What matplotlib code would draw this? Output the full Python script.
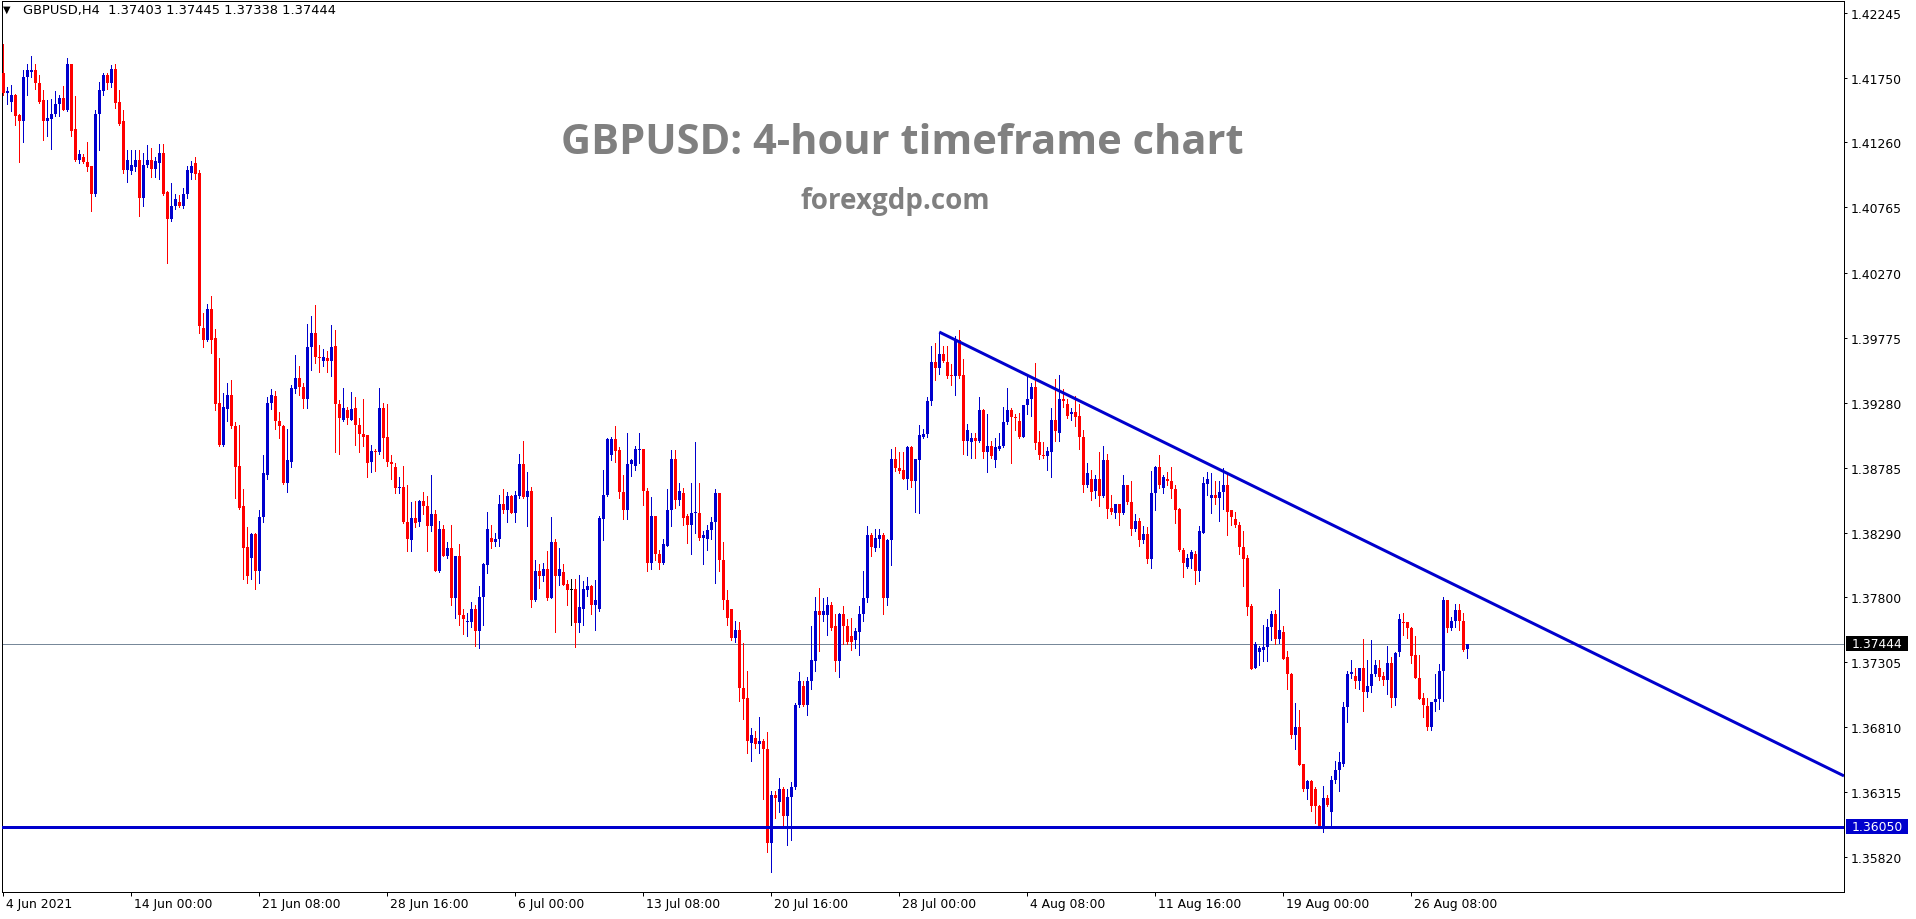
import matplotlib
matplotlib.use("Agg")
import matplotlib.pyplot as plt
from matplotlib.patches import Rectangle
from matplotlib.transforms import blended_transform_factory
import numpy as np

# ---------------- data (GBPUSD H4) ----------------
OPEN = [
1.4179,1.4164,1.4157,1.4162,1.4147,1.4142,1.4176,1.4180,1.4181,1.4171,
1.4158,1.4142,1.4144,1.4148,1.4155,1.4160,1.4151,1.4186,1.4136,1.4113,
1.4115,1.4111,1.4108,1.4087,1.4148,1.4165,1.4177,1.4171,1.4182,1.4157,
1.4142,1.4105,1.4104,1.4107,1.4113,1.4084,1.4109,1.4113,1.4106,1.4110,
1.4118,1.4088,1.4068,1.4078,1.4081,1.4078,1.4087,1.4103,1.4110,1.4103,
1.3985,1.3976,1.3999,1.3977,1.3928,1.3896,1.3923,1.3934,1.3910,1.3880,
1.3849,1.3818,1.3810,1.3828,1.3800,1.3841,1.3873,1.3928,1.3933,1.3914,
1.3910,1.3867,1.3883,1.3938,1.3947,1.3940,1.3931,1.3970,1.3981,1.3963,
1.3960,1.3962,1.3960,1.3971,1.3927,1.3915,1.3922,1.3915,1.3924,1.3911,
1.3904,1.3903,1.3883,1.3891,1.3890,1.3924,1.3902,1.3883,1.3879,1.3863,
1.3864,1.3837,1.3823,1.3840,1.3837,1.3853,1.3849,1.3834,1.3843,1.3800,
1.3832,1.3811,1.3817,1.3779,1.3811,1.3766,1.3761,1.3761,1.3771,1.3754,
1.3780,1.3804,1.3825,1.3822,1.3824,1.3851,1.3846,1.3857,1.3844,1.3857,
1.3881,1.3856,1.3861,1.3778,1.3800,1.3796,1.3801,1.3779,1.3822,1.3796,
1.3799,1.3790,1.3785,1.3786,1.3760,1.3771,1.3785,1.3788,1.3774,1.3771,
1.3839,1.3858,1.3888,1.3900,1.3892,1.3860,1.3846,1.3881,1.3880,1.3892,
1.3893,1.3861,1.3806,1.3842,1.3813,1.3806,1.3819,1.3846,1.3885,1.3854,
1.3859,1.3842,1.3835,1.3844,1.3844,1.3825,1.3824,1.3831,1.3837,1.3859,
1.3808,1.3778,1.3771,1.3749,1.3755,1.3711,1.3703,1.3669,1.3673,1.3668,
1.3670,1.3664,1.3593,1.3629,1.3624,1.3634,1.3613,1.3628,1.3635,1.3698,
1.3712,1.3698,1.3716,1.3731,1.3769,1.3766,1.3766,1.3774,1.3758,1.3731,
1.3767,1.3758,1.3750,1.3747,1.3753,1.3767,1.3779,1.3827,1.3817,1.3824,
1.3827,1.3779,1.3823,1.3885,1.3878,1.3877,1.3870,1.3894,1.3868,1.3884,
1.3902,1.3904,1.3929,1.3959,1.3954,1.3965,1.3959,1.3949,1.3948,1.3976,
1.3949,1.3899,1.3898,1.3901,1.3899,1.3922,1.3890,1.3895,1.3884,1.3893,
1.3895,1.3913,1.3922,1.3917,1.3914,1.3902,1.3926,1.3931,1.3940,1.3898,
1.3888,1.3887,1.3890,1.3915,1.3905,1.3931,1.3927,1.3919,1.3921,1.3918,
1.3902,1.3865,1.3870,1.3861,1.3870,1.3857,1.3884,1.3848,1.3844,1.3851,
1.3844,1.3865,1.3852,1.3832,1.3838,1.3823,1.3828,1.3809,1.3859,1.3879,
1.3863,1.3870,1.3868,1.3862,1.3847,1.3816,1.3803,1.3809,1.3813,1.3800,
1.3829,1.3866,1.3855,1.3858,1.3855,1.3860,1.3865,1.3846,1.3839,1.3835,
1.3818,1.3810,1.3773,1.3726,1.3738,1.3740,1.3742,1.3757,1.3767,1.3748,
1.3753,1.3734,1.3721,1.3675,1.3681,1.3653,1.3634,1.3640,1.3634,1.3621,
1.3605,1.3627,1.3616,1.3641,1.3648,1.3653,1.3696,1.3721,1.3720,1.3716,
1.3726,1.3708,1.3712,1.3721,1.3726,1.3720,1.3717,1.3730,1.3703,1.3738,
1.3761,1.3761,1.3756,1.3736,1.3718,1.3703,1.3697,1.3681,1.3700,1.3702,
1.3724,1.3778,1.3756,1.3762,1.3770,1.3762,1.37403]

HIGH = [
1.4201,1.4168,1.4170,1.4163,1.4148,1.4181,1.4186,1.4192,1.4186,1.4177,
1.4166,1.4158,1.4159,1.4165,1.4162,1.4169,1.4190,1.4186,1.4161,1.4120,
1.4117,1.4126,1.4108,1.4151,1.4172,1.4179,1.4179,1.4185,1.4186,1.4166,
1.4151,1.4120,1.4120,1.4120,1.4120,1.4118,1.4124,1.4122,1.4115,1.4125,
1.4125,1.4089,1.4095,1.4087,1.4086,1.4091,1.4108,1.4112,1.4115,1.4105,
1.3996,1.4003,1.4009,1.3984,1.3962,1.3935,1.3943,1.3945,1.3913,1.3911,
1.3862,1.3833,1.3829,1.3829,1.3846,1.3888,1.3932,1.3938,1.3937,1.3921,
1.3911,1.3908,1.3941,1.3964,1.3956,1.3943,1.3988,1.3994,1.4002,1.3972,
1.3969,1.3967,1.3987,1.3983,1.3930,1.3939,1.3925,1.3936,1.3932,1.3916,
1.3931,1.3903,1.3896,1.3893,1.3939,1.3928,1.3927,1.3888,1.3882,1.3871,
1.3880,1.3865,1.3852,1.3853,1.3854,1.3860,1.3857,1.3873,1.3846,1.3838,
1.3835,1.3822,1.3835,1.3811,1.3820,1.3771,1.3768,1.3776,1.3774,1.3788,
1.3806,1.3845,1.3835,1.3829,1.3858,1.3862,1.3860,1.3858,1.3861,1.3889,
1.3899,1.3875,1.3864,1.3808,1.3805,1.3806,1.3815,1.3841,1.3824,1.3817,
1.3805,1.3793,1.3794,1.3794,1.3797,1.3792,1.3795,1.3789,1.3793,1.3842,
1.3877,1.3901,1.3902,1.3910,1.3894,1.3873,1.3905,1.3885,1.3895,1.3905,
1.3893,1.3863,1.3856,1.3842,1.3816,1.3824,1.3862,1.3892,1.3892,1.3867,
1.3863,1.3843,1.3867,1.3898,1.3867,1.3830,1.3835,1.3841,1.3862,1.3859,
1.3822,1.3785,1.3771,1.3762,1.3761,1.3745,1.3724,1.3680,1.3678,1.3689,
1.3672,1.3677,1.3632,1.3632,1.3642,1.3635,1.3634,1.3639,1.3699,1.3723,
1.3716,1.3719,1.3758,1.3780,1.3787,1.3779,1.3780,1.3776,1.3767,1.3768,
1.3773,1.3763,1.3764,1.3756,1.3773,1.3800,1.3834,1.3829,1.3832,1.3832,
1.3829,1.3824,1.3893,1.3894,1.3890,1.3890,1.3895,1.3895,1.3885,1.3911,
1.3908,1.3932,1.3971,1.3973,1.3981,1.3971,1.3971,1.3957,1.3979,1.3983,
1.3961,1.3912,1.3905,1.3905,1.3932,1.3923,1.3919,1.3899,1.3901,1.3905,
1.3925,1.3939,1.3924,1.3919,1.3920,1.3926,1.3949,1.3943,1.3958,1.3906,
1.3898,1.3894,1.3924,1.3946,1.3949,1.3938,1.3931,1.3924,1.3933,1.3927,
1.3907,1.3882,1.3877,1.3873,1.3890,1.3895,1.3889,1.3858,1.3851,1.3851,
1.3873,1.3865,1.3868,1.3843,1.3840,1.3834,1.3833,1.3876,1.3880,1.3888,
1.3873,1.3875,1.3879,1.3865,1.3848,1.3817,1.3813,1.3816,1.3815,1.3834,
1.3871,1.3875,1.3874,1.3868,1.3868,1.3878,1.3874,1.3846,1.3845,1.3837,
1.3830,1.3812,1.3775,1.3746,1.3743,1.3759,1.3763,1.3769,1.3770,1.3786,
1.3758,1.3739,1.3722,1.3699,1.3694,1.3653,1.3641,1.3641,1.3635,1.3622,
1.3636,1.3629,1.3644,1.3655,1.3662,1.3700,1.3724,1.3732,1.3726,1.3726,
1.3748,1.3732,1.3747,1.3732,1.3732,1.3723,1.3743,1.3734,1.3738,1.3767,
1.3768,1.3761,1.3757,1.3750,1.3736,1.3707,1.3703,1.3700,1.3721,1.3729,
1.3780,1.3778,1.3765,1.3775,1.3775,1.3768,1.37445]

LOW = [
1.4162,1.4155,1.4150,1.4139,1.4111,1.4126,1.4162,1.4176,1.4167,1.4156,
1.4128,1.4131,1.4121,1.4146,1.4146,1.4151,1.4150,1.4131,1.4112,1.4110,
1.4110,1.4104,1.4074,1.4085,1.4120,1.4162,1.4167,1.4168,1.4152,1.4139,
1.4103,1.4096,1.4102,1.4104,1.4070,1.4078,1.4107,1.4100,1.4100,1.4098,
1.4086,1.4034,1.4066,1.4075,1.4077,1.4076,1.4084,1.4098,1.4098,1.3981,
1.3970,1.3975,1.3966,1.3922,1.3895,1.3895,1.3914,1.3909,1.3855,1.3847,
1.3794,1.3791,1.3794,1.3786,1.3791,1.3837,1.3870,1.3923,1.3908,1.3901,
1.3866,1.3860,1.3879,1.3935,1.3934,1.3924,1.3924,1.3953,1.3958,1.3951,
1.3956,1.3951,1.3948,1.3890,1.3889,1.3914,1.3912,1.3915,1.3896,1.3890,
1.3895,1.3871,1.3875,1.3876,1.3889,1.3886,1.3880,1.3870,1.3859,1.3859,
1.3836,1.3815,1.3815,1.3833,1.3834,1.3843,1.3815,1.3830,1.3800,1.3799,
1.3811,1.3810,1.3774,1.3764,1.3759,1.3752,1.3750,1.3757,1.3743,1.3741,
1.3759,1.3798,1.3817,1.3819,1.3819,1.3844,1.3837,1.3844,1.3837,1.3855,
1.3855,1.3834,1.3772,1.3777,1.3787,1.3792,1.3778,1.3779,1.3753,1.3789,
1.3789,1.3774,1.3759,1.3742,1.3753,1.3759,1.3781,1.3767,1.3755,1.3769,
1.3823,1.3857,1.3884,1.3883,1.3855,1.3839,1.3839,1.3872,1.3877,1.3882,
1.3850,1.3800,1.3801,1.3808,1.3801,1.3805,1.3819,1.3834,1.3848,1.3850,
1.3835,1.3821,1.3813,1.3829,1.3823,1.3805,1.3816,1.3824,1.3791,1.3800,
1.3771,1.3759,1.3747,1.3746,1.3701,1.3687,1.3661,1.3655,1.3665,1.3661,
1.3626,1.3586,1.3571,1.3612,1.3616,1.3605,1.3591,1.3595,1.3634,1.3696,
1.3697,1.3690,1.3710,1.3724,1.3739,1.3762,1.3751,1.3755,1.3724,1.3719,
1.3744,1.3744,1.3740,1.3741,1.3736,1.3762,1.3776,1.3811,1.3815,1.3818,
1.3767,1.3774,1.3804,1.3876,1.3874,1.3870,1.3862,1.3864,1.3845,1.3844,
1.3901,1.3902,1.3926,1.3945,1.3950,1.3959,1.3947,1.3941,1.3934,1.3947,
1.3889,1.3888,1.3886,1.3886,1.3898,1.3886,1.3875,1.3886,1.3879,1.3892,
1.3894,1.3912,1.3882,1.3907,1.3901,1.3902,1.3919,1.3918,1.3893,1.3885,
1.3886,1.3877,1.3871,1.3899,1.3899,1.3925,1.3916,1.3915,1.3910,1.3893,
1.3860,1.3864,1.3854,1.3855,1.3849,1.3856,1.3840,1.3843,1.3840,1.3835,
1.3843,1.3851,1.3827,1.3830,1.3819,1.3821,1.3806,1.3802,1.3846,1.3863,
1.3859,1.3865,1.3855,1.3836,1.3815,1.3795,1.3802,1.3802,1.3790,1.3792,
1.3829,1.3858,1.3844,1.3851,1.3838,1.3847,1.3827,1.3835,1.3833,1.3813,
1.3788,1.3766,1.3725,1.3726,1.3728,1.3731,1.3731,1.3747,1.3744,1.3745,
1.3733,1.3710,1.3673,1.3664,1.3652,1.3632,1.3626,1.3617,1.3608,1.3605,
1.3601,1.3621,1.3606,1.3638,1.3632,1.3651,1.3685,1.3718,1.3711,1.3710,
1.3693,1.3704,1.3708,1.3720,1.3717,1.3713,1.3706,1.3696,1.3698,1.3735,
1.3751,1.3749,1.3730,1.3718,1.3702,1.3689,1.3679,1.3679,1.3693,1.3695,
1.3701,1.3753,1.3755,1.3757,1.3755,1.3739,1.37338]

CLOSE = [
1.4164,1.4165,1.4162,1.4146,1.4142,1.4176,1.4181,1.4181,1.4171,1.4157,
1.4142,1.4145,1.4148,1.4155,1.4160,1.4151,1.4186,1.4135,1.4113,1.4117,
1.4111,1.4107,1.4087,1.4148,1.4166,1.4177,1.4171,1.4182,1.4156,1.4140,
1.4105,1.4113,1.4109,1.4113,1.4084,1.4109,1.4113,1.4106,1.4112,1.4118,
1.4087,1.4068,1.4078,1.4083,1.4078,1.4087,1.4105,1.4108,1.4102,1.3986,
1.3976,1.3999,1.3976,1.3927,1.3896,1.3925,1.3934,1.3910,1.3879,1.3848,
1.3817,1.3796,1.3828,1.3800,1.3841,1.3874,1.3928,1.3934,1.3914,1.3910,
1.3867,1.3884,1.3939,1.3947,1.3940,1.3931,1.3970,1.3981,1.3963,1.3962,
1.3963,1.3960,1.3970,1.3927,1.3916,1.3924,1.3916,1.3923,1.3911,1.3904,
1.3902,1.3882,1.3891,1.3890,1.3924,1.3901,1.3883,1.3881,1.3863,1.3864,
1.3837,1.3824,1.3840,1.3836,1.3853,1.3849,1.3834,1.3843,1.3800,1.3832,
1.3811,1.3817,1.3779,1.3811,1.3766,1.3763,1.3762,1.3771,1.3754,1.3780,
1.3805,1.3832,1.3822,1.3824,1.3851,1.3846,1.3857,1.3844,1.3858,1.3881,
1.3856,1.3861,1.3778,1.3800,1.3796,1.3801,1.3779,1.3822,1.3796,1.3801,
1.3789,1.3785,1.3785,1.3760,1.3772,1.3786,1.3788,1.3774,1.3778,1.3840,
1.3858,1.3900,1.3900,1.3891,1.3860,1.3846,1.3881,1.3884,1.3893,1.3893,
1.3861,1.3806,1.3842,1.3813,1.3806,1.3820,1.3846,1.3885,1.3854,1.3861,
1.3840,1.3835,1.3844,1.3845,1.3825,1.3827,1.3831,1.3837,1.3859,1.3808,
1.3778,1.3764,1.3749,1.3755,1.3711,1.3702,1.3670,1.3675,1.3668,1.3670,
1.3664,1.3593,1.3629,1.3627,1.3634,1.3613,1.3628,1.3635,1.3698,1.3716,
1.3698,1.3716,1.3732,1.3769,1.3766,1.3769,1.3774,1.3756,1.3731,1.3767,
1.3758,1.3746,1.3746,1.3754,1.3767,1.3779,1.3827,1.3818,1.3825,1.3827,
1.3779,1.3823,1.3885,1.3878,1.3876,1.3870,1.3894,1.3868,1.3885,1.3903,
1.3904,1.3929,1.3959,1.3954,1.3965,1.3960,1.3948,1.3948,1.3976,1.3948,
1.3899,1.3907,1.3901,1.3899,1.3922,1.3890,1.3895,1.3887,1.3894,1.3895,
1.3913,1.3922,1.3917,1.3916,1.3902,1.3926,1.3931,1.3940,1.3897,1.3888,
1.3887,1.3891,1.3915,1.3906,1.3931,1.3929,1.3918,1.3921,1.3917,1.3902,
1.3865,1.3874,1.3860,1.3870,1.3857,1.3884,1.3847,1.3845,1.3851,1.3844,
1.3865,1.3852,1.3832,1.3838,1.3823,1.3828,1.3809,1.3859,1.3879,1.3865,
1.3871,1.3868,1.3862,1.3846,1.3816,1.3806,1.3810,1.3814,1.3800,1.3830,
1.3867,1.3870,1.3858,1.3855,1.3860,1.3865,1.3845,1.3841,1.3835,1.3818,
1.3809,1.3772,1.3725,1.3744,1.3741,1.3742,1.3757,1.3767,1.3748,1.3755,
1.3733,1.3721,1.3675,1.3681,1.3652,1.3634,1.3640,1.3621,1.3621,1.3605,
1.3627,1.3622,1.3641,1.3648,1.3654,1.3696,1.3721,1.3723,1.3716,1.3726,
1.3708,1.3712,1.3721,1.3728,1.3719,1.3717,1.3730,1.3703,1.3737,1.3763,
1.3760,1.3756,1.3735,1.3718,1.3702,1.3698,1.3681,1.3700,1.3702,1.3724,
1.3778,1.3756,1.3762,1.3770,1.3762,1.3740,1.37444]

DATE_LABELS = ["4 Jun 2021", "14 Jun 00:00", "21 Jun 08:00", "28 Jun 16:00",
               "6 Jul 00:00", "13 Jul 08:00", "20 Jul 16:00", "28 Jul 00:00",
               "4 Aug 08:00", "11 Aug 16:00", "19 Aug 00:00", "26 Aug 08:00"]
DATE_LABEL_BARS = [0, 32, 64, 96, 128, 160, 192, 224, 256, 288, 320, 352]

PRICE_TICKS = [1.42245, 1.41750, 1.41260, 1.40765, 1.40270, 1.39775, 1.39280,
               1.38785, 1.38290, 1.37800, 1.37305, 1.36810, 1.36315, 1.35820]

SUPPORT = 1.36050
LAST_PRICE = 1.37444
TREND_BARS = [234, 366]
TREND_PRICES = [1.39817, 1.37845]

SYMBOL = "GBPUSD,H4"
TITLE = "GBPUSD: 4-hour timeframe chart"
SUBTITLE = "forexgdp.com"

# ---------------- styling ----------------
W, H = 1916, 920
DPI = 100
BULL = "#0000CD"
BEAR = "#FF0000"
LINE_BLUE = "#0000CD"
GRAY_LINE = "#778899"
TEXT_GRAY = "#808080"
PX = 72.0 / DPI  # one pixel in points

fig = plt.figure(figsize=(W / DPI, H / DPI), dpi=DPI, facecolor="white")
ax_left, ax_right, ax_top, ax_bot = 2, 1844, 2, 893
ax = fig.add_axes([ax_left / W, (H - ax_bot) / H, (ax_right - ax_left) / W, (ax_bot - ax_top) / H])
ax.set_facecolor("white")

o = np.array(OPEN); h = np.array(HIGH); l = np.array(LOW); c = np.array(CLOSE)
x = np.arange(len(o))

ax.set_xlim(-0.325, 460.2)
ax.set_ylim(1.35554, 1.42337)

# px -> price units
ppx = (1.42337 - 1.35554) / (ax_bot - ax_top)

colors = np.where(c > o, BULL, np.where(c < o, BEAR, "black"))
ax.vlines(x, l, h, colors=colors, linewidth=1 * PX, antialiased=False, zorder=3)
bottom = np.minimum(o, c)
height = np.maximum(np.abs(c - o), ppx)
ax.bar(x, height, bottom=bottom, width=0.75, color=colors, linewidth=0,
       antialiased=False, zorder=4)

# lines
ax.axhline(LAST_PRICE, color=GRAY_LINE, linewidth=1 * PX, zorder=2)
ax.axhline(SUPPORT, color=LINE_BLUE, linewidth=3 * PX, zorder=5)
slope = (TREND_PRICES[1] - TREND_PRICES[0]) / (TREND_BARS[1] - TREND_BARS[0])
x_end = ax.get_xlim()[1]
ax.plot([TREND_BARS[0], x_end], [TREND_PRICES[0], TREND_PRICES[0] + slope * (x_end - TREND_BARS[0])],
        color=LINE_BLUE, linewidth=3 * PX, solid_capstyle="butt", zorder=5, clip_on=True)

# spines
for s in ax.spines.values():
    s.set_color("black")
    s.set_linewidth(1 * PX)

# right price axis
ax.yaxis.tick_right()
ax.set_yticks(PRICE_TICKS)
ax.set_yticklabels([f"{v:.5f}" for v in PRICE_TICKS])
ax.tick_params(axis="y", direction="out", length=3 * PX, width=1 * PX, pad=4 * PX,
               labelsize=8.9, colors="black")
for t in ax.get_yticklabels():
    t.set_fontfamily("DejaVu Sans")

# bottom date axis
ax.set_xticks(DATE_LABEL_BARS)
ax.set_xticklabels([])
ax.tick_params(axis="x", direction="out", length=4 * PX, width=1 * PX)
xtr = ax.get_xaxis_transform()
for b, lab in zip(DATE_LABEL_BARS, DATE_LABELS):
    ax.annotate(lab, xy=(b, 0), xycoords=xtr, xytext=(3, -12), textcoords="offset pixels",
                ha="left", va="center", fontsize=8.9, family="DejaVu Sans", color="black",
                annotation_clip=False)

# price label boxes
ytr = blended_transform_factory(ax.transAxes, ax.transData)
box_x0 = (1846 - ax_left) / (ax_right - ax_left)
box_w = 62 / (ax_right - ax_left)
for val, fc in [(LAST_PRICE, "black"), (SUPPORT, LINE_BLUE)]:
    ax.add_patch(Rectangle((box_x0, val - 7.5 * ppx), box_w, 15 * ppx, transform=ytr,
                           facecolor=fc, edgecolor="none", clip_on=False, zorder=10))
    ax.text((1852 - ax_left) / (ax_right - ax_left), val, f"{val:.5f}", transform=ytr,
            ha="left", va="center", fontsize=8.9, family="DejaVu Sans", color="white",
            clip_on=False, zorder=11)

# header
fig.text(3 / W, 1 - 10 / H, "\u25BC", fontsize=7, family="DejaVu Sans", va="center", ha="left")
fig.text(23 / W, 1 - 10.5 / H,
         f"{SYMBOL}  {OPEN[-1]:.5f} {HIGH[-1]:.5f} {LOW[-1]:.5f} {CLOSE[-1]:.5f}",
         fontsize=9.4, family="DejaVu Sans", va="center", ha="left", color="black")

# titles
fig.text(902 / W, 1 - 144 / H, TITLE, fontsize=30, fontweight="bold", family="Open Sans",
         color=TEXT_GRAY, ha="center", va="center")
fig.text(895 / W, 1 - 201 / H, SUBTITLE, fontsize=20, fontweight="bold", family="Open Sans",
         color=TEXT_GRAY, ha="center", va="center")

fig.savefig("out.png", dpi=DPI, facecolor="white")
